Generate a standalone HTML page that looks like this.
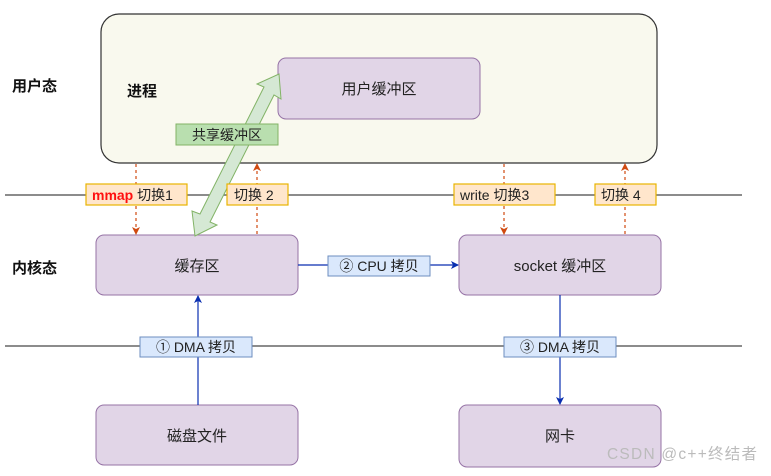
<!DOCTYPE html>
<html><head><meta charset="utf-8"><style>
body{margin:0;background:#fff;}
svg text{font-family:"Liberation Sans","Noto Sans CJK SC",sans-serif;}
</style></head><body>
<svg width="771" height="471" viewBox="0 0 771 471" xmlns="http://www.w3.org/2000/svg">
<defs>
<marker id="ab" markerWidth="8" markerHeight="8" refX="7" refY="4" orient="auto" markerUnits="userSpaceOnUse"><path d="M0,0 L8,4 L0,8 L2,4 Z" fill="#0a2fb0"/></marker>
<marker id="ao" markerWidth="8" markerHeight="8" refX="7" refY="4" orient="auto" markerUnits="userSpaceOnUse"><path d="M0,0 L8,4 L0,8 L2,4 Z" fill="#d04a10"/></marker>
</defs>
<rect x="0" y="0" width="771" height="471" fill="#fff"/>
<rect x="101" y="14" width="556" height="149" rx="18" fill="#f9f9ee" stroke="#333" stroke-width="1.2"/>
<line x1="5" y1="195" x2="742" y2="195" stroke="#666" stroke-width="1.5"/>
<line x1="5" y1="346" x2="742" y2="346" stroke="#666" stroke-width="1.5"/>
<g fill="#e1d5e7" stroke="#9673a6" stroke-width="1">
<rect x="278" y="58" width="202" height="61" rx="8"/>
<rect x="96" y="235" width="202" height="60" rx="8"/>
<rect x="459" y="235" width="202" height="60" rx="8"/>
<rect x="96" y="405" width="202" height="60" rx="8"/>
<rect x="459" y="405" width="202" height="62" rx="8"/>
</g>
<g font-size="15" fill="#222" text-anchor="middle">
<text x="379" y="94">用户缓冲区</text>
<text x="197" y="271">缓存区</text>
<text x="560" y="271">socket 缓冲区</text>
<text x="197" y="441">磁盘文件</text>
<text x="560" y="441">网卡</text>
</g>
<g font-size="15" font-weight="bold" fill="#111">
<text x="12" y="91">用户态</text>
<text x="127" y="96">进程</text>
<text x="12" y="273">内核态</text>
</g>
<g stroke="#d04a10" stroke-width="1.2" stroke-dasharray="3,3" marker-end="url(#ao)">
<line x1="136" y1="164" x2="136" y2="234"/>
<line x1="257" y1="234" x2="257" y2="164"/>
<line x1="504" y1="164" x2="504" y2="234"/>
<line x1="625" y1="234" x2="625" y2="164"/>
</g>
<g stroke="#0a2fb0" stroke-width="1.2" marker-end="url(#ab)">
<line x1="298" y1="265" x2="458" y2="265"/>
<line x1="198" y1="405" x2="198" y2="296"/>
<line x1="560" y1="295" x2="560" y2="404"/>
</g>
<polygon points="195,236 192,211 200,214 264,87 257,84 279,74 281,99 274,95 210,222 217,225" fill="#d5e8d4" stroke="#82b366" stroke-width="1"/>
<g fill="#ffe6cc" stroke="#e8b400" stroke-width="1.2">
<rect x="86" y="184" width="101" height="21"/>
<rect x="227" y="184" width="61" height="21"/>
<rect x="454" y="184" width="101" height="21"/>
<rect x="595" y="184" width="61" height="21"/>
</g>
<g font-size="14" fill="#222">
<text x="92" y="200"><tspan fill="#ff1010" font-weight="bold">mmap</tspan> 切换1</text>
<text x="234" y="200">切换 2</text>
<text x="460" y="200">write 切换3</text>
<text x="601" y="200">切换 4</text>
</g>
<g fill="#dae8fc" stroke="#6c8ebf" stroke-width="1">
<rect x="328" y="256" width="102" height="20"/>
<rect x="140" y="337" width="112" height="20"/>
<rect x="504" y="337" width="112" height="20"/>
</g>
<rect x="176" y="124" width="102" height="21" fill="#b9dfaf" stroke="#82b366"/>
<g font-size="14" fill="#222" text-anchor="middle">
<text x="379" y="271">② CPU 拷贝</text>
<text x="196" y="352">① DMA 拷贝</text>
<text x="560" y="352">③ DMA 拷贝</text>
<text x="227" y="140">共享缓冲区</text>
</g>
<text x="607" y="459" font-size="15.5" fill="#bbb" textLength="150">CSDN @c++终结者</text>
</svg>
</body></html>
